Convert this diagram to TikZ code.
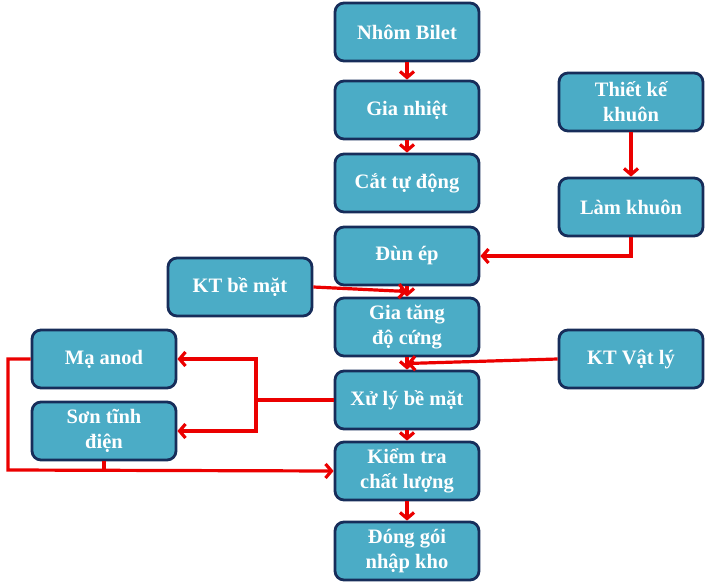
\documentclass[tikz,border=0pt]{standalone}
\usepackage{fontspec}
\setmainfont{Liberation Serif}
\usetikzlibrary{arrows.meta,calc}
\definecolor{boxfill}{RGB}{75,172,198}
\definecolor{boxline}{RGB}{23,45,90}
\definecolor{flowred}{RGB}{235,0,0}
\tikzset{box/.style={draw=boxline, line width=2.8pt, fill=boxfill, rounded corners=9pt, minimum width=144pt, minimum height=58pt, align=center, text=white, font=\bfseries\fontsize{20.5}{25}\selectfont},
flow/.style={draw=flowred, line width=3.2pt, -{Straight Barb[length=6pt,width=14pt]}},
wire/.style={draw=flowred, line width=3.2pt}}
\begin{document}
\begin{tikzpicture}[x=1pt,y=-1pt]
\useasboundingbox (0,0) rectangle (706,583);
\node[box] (bilet) at (407,32) {Nhôm Bilet};
\node[box] (nhiet) at (407,110) {Gia nhiệt};
\node[box] (cat) at (407,183) {Cắt tự động};
\node[box] (dun) at (407,256) {Đùn ép};
\node[box] (tang) at (407,327) {Gia tăng\\độ cứng};
\node[box] (xuly) at (407,400) {Xử lý bề mặt};
\node[box] (ktra) at (407,471) {Kiểm tra\\chất lượng};
\node[box] (donggoi) at (407,551) {Đóng gói\\nhập kho};
\node[box] (thietke) at (631,102) {Thiết kế\\khuôn};
\node[box] (lamkhuon) at (631,207) {Làm khuôn};
\node[box] (ktbemat) at (240,287) {KT bề mặt};
\node[box] (ktvatly) at (631,359) {KT Vật lý};
\node[box] (maanod) at (104,359) {Mạ anod};
\node[box] (son) at (104,431) {Sơn tĩnh\\điện};
\coordinate (j1) at ($(dun.south)!0.5!(tang.north)$);
\coordinate (j2) at ($(tang.south)!0.5!(xuly.north)$);
\coordinate (split) at (256,400);
\coordinate (back) at (8,470);
\draw[flow] (bilet) -- (nhiet);
\draw[flow] (nhiet) -- (cat);
\draw[flow] (thietke) -- (lamkhuon);
\draw[flow] (lamkhuon.south) |- (dun.east);
\draw[flow] (dun) -- (tang);
\draw[flow] (ktbemat.east) -- (j1);
\draw[flow] (tang) -- (xuly);
\draw[flow] (ktvatly.west) -- (j2);
\draw[wire] (xuly.west) -- (split);
\draw[flow] (split) |- (maanod.east);
\draw[flow] (split) |- (son.east);
\draw[flow] (xuly) -- (ktra);
\draw[wire] (son.south) -- (son.south |- back);
\draw[flow] (maanod.west) -| (back) -- (ktra.west);
\draw[flow] (ktra) -- (donggoi);
\end{tikzpicture}
\end{document}
